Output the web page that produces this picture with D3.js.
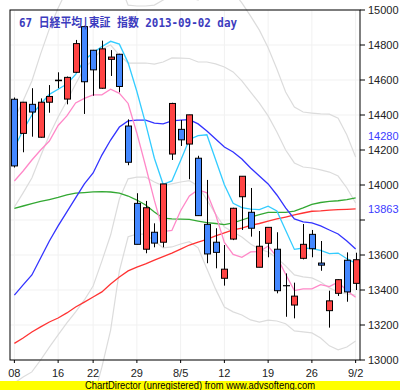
<!DOCTYPE html>
<html><head><meta charset="utf-8">
<script src="https://cdn.jsdelivr.net/npm/d3@7"></script>
<style>body{margin:0;background:#fff}svg{display:block}</style>
</head><body>
<svg id="c" width="400" height="390"></svg>
<script>
const dates = ["7/8","7/9","7/10","7/11","7/12","7/16","7/17","7/18","7/19","7/22","7/23","7/24","7/25","7/26",
  "7/29","7/30","7/31","8/1","8/2","8/5","8/6","8/7","8/8","8/9","8/12","8/13","8/14","8/15","8/16",
  "8/19","8/20","8/21","8/22","8/23","8/26","8/27","8/28","8/29","8/30","9/2"];
const open  = [14490,14295,14461,14273,14473,14596,14491,14644,14905,14770,14553,14718,14747,14337,13895,13633,13730,13673,14177,14318,14234,14153,13775,13673,13467,13691,13933,13844,13530,13667,13633,13425,13314,13581,13718,13554,13282,13381,13570,13438];
const high  = [14500,14475,14553,14495,14571,14644,14620,14829,14910,14772,14825,14771,14750,14375,13953,13909,13781,14006,14470,14371,14401,14167,14029,13753,13657,13870,14050,13983,13737,13758,13730,13495,13442,13777,13743,13680,13396,13461,13615,13613];
const low   = [14100,14187,14276,14270,14413,14553,14461,14640,14406,14510,14550,14623,14530,14113,13661,13610,13644,13644,14143,14223,14033,13823,13553,13524,13425,13685,13743,13705,13530,13587,13381,13247,13238,13575,13587,13510,13185,13366,13333,13400];
const close = [14109,14473,14417,14473,14506,14599,14615,14808,14590,14658,14778,14731,14563,14130,13661,13870,13668,14006,14466,14258,14401,13825,13606,13615,13519,13867,14050,13753,13650,13758,13396,13424,13365,13661,13636,13542,13338,13459,13389,13573];

const lineCyan  = [14211,14314,14400,14463,14518,14547,14577,14632,14715,14755,14791,14821,14805,14698,14534,14351,14153,14004,14023,14140,14260,14282,14287,14144,14001,13895,13871,13862,13859,13879,13852,13741,13632,13640,13637,13627,13608,13611,13579,13553];
const linePink  = [14023,14080,14143,14200,14251,14340,14395,14469,14495,14515,14515,14547,14524,14466,14296,14107,13912,13734,13740,13853,13937,13973,13955,13831,13672,13603,13587,13618,13619,13651,13589,13490,13397,13406,13406,13431,13419,13445,13396,13359];
const lineBlue  = [13371,13429,13486,13583,13680,13766,13846,13926,14006,14069,14171,14257,14331,14366,14371,14371,14354,14349,14366,14371,14374,14349,14309,14263,14217,14189,14149,14097,14051,14006,13943,13869,13806,13789,13783,13766,13743,13720,13680,13634];
const lineGreen = [13867,13880,13894,13906,13917,13929,13943,13954,13957,13961,13962,13960,13954,13937,13914,13886,13846,13811,13806,13805,13803,13794,13785,13780,13774,13783,13800,13817,13831,13843,13844,13844,13851,13869,13889,13900,13906,13910,13917,13926];
const lineRed   = [13095,13126,13160,13189,13217,13240,13269,13303,13331,13360,13389,13434,13474,13509,13531,13549,13571,13591,13611,13634,13657,13674,13689,13709,13726,13743,13754,13769,13780,13794,13806,13817,13829,13840,13850,13852,13856,13859,13861,13863];
const bandUpper2 = [14377,14481,14594,14749,14892,15012,15114,15228,15332,15361,15383,15343,15153,15028,15023,15023,15028,15057,15086,15079,15072,15057,15097,15121,15131,15103,15041,14965,14885,14784,14663,14531,14446,14417,14411,14406,14405,14382,14286,14160];
const bandUpper1 = [13874,13955,14040,14166,14286,14389,14480,14577,14669,14715,14777,14800,14742,14697,14697,14697,14691,14703,14726,14725,14723,14703,14703,14692,14674,14646,14595,14531,14468,14395,14303,14200,14126,14103,14097,14086,14074,14051,13983,13897];
const bandLower1 = [12868,12903,12932,13000,13074,13143,13212,13275,13343,13423,13565,13714,13920,14035,14045,14045,14017,13995,14006,14017,14025,13995,13915,13834,13760,13732,13703,13663,13634,13617,13583,13538,13486,13475,13469,13446,13412,13389,13377,13371];
const bandLower2 = [12365,12377,12378,12417,12468,12520,12578,12624,12680,12777,12959,13171,13509,13704,13719,13719,13680,13641,13646,13663,13676,13641,13521,13405,13303,13275,13257,13229,13217,13228,13223,13207,13166,13161,13155,13126,13081,13058,13074,13108];

const yTicks = [13000,13200,13400,13600,13800,14000,14200,14400,14600,14800,15000];
const yTickLabels = ["13000","13200","13400","13600","","14000","14200","14400","14600","14800","15000"];
const markValues = [14280, 13863];
const xTickDates = ["7/8","7/16","7/22","7/29","8/5","8/12","8/19","8/26","9/2"];
const xTickLabels = ["08","16","22","29","8/5","12","19","26","9/2"];
const title = "67 日経平均|東証 指数 2013-09-02 day";
const footer = "ChartDirector (unregistered) from www.advsofteng.com";

const svg = d3.select("#c");
const L = 10, R = 360, T = 10, B = 360;
const x = d3.scaleBand().domain(dates).range([L, R]).padding(0);
const cx = d => x(d) + x.bandwidth() / 2;
const y = d3.scaleLinear().domain([13000, 15000]).range([B, T]);

svg.append("rect").attr("width", 400).attr("height", 390).attr("fill", "#fff");

// grid
svg.append("g").selectAll("line").data(yTicks).join("line")
  .attr("x1", L).attr("x2", R).attr("y1", d => y(d)).attr("y2", d => y(d))
  .attr("stroke", "#f1f1f1").attr("stroke-width", 1);
svg.append("g").selectAll("line").data(xTickDates).join("line")
  .attr("x1", d => cx(d)).attr("x2", d => cx(d)).attr("y1", T).attr("y2", B)
  .attr("stroke", "#f1f1f1").attr("stroke-width", 1);

const lineGen = d3.line().x((d, i) => cx(dates[i])).y(d => y(d));

// bands (not clipped)
[bandUpper2, bandUpper1, bandLower1, bandLower2].forEach(arr => {
  svg.append("path").datum(arr).attr("d", lineGen)
    .attr("fill", "none").attr("stroke", "#dcdcdc").attr("stroke-width", 1.2);
});

const lines = [
  [lineRed, "#ff3333"],
  [lineGreen, "#33a833"],
  [lineBlue, "#3333ff"],
  [linePink, "#ff88c8"],
  [lineCyan, "#33ccff"]
];
lines.forEach(([arr, col]) => {
  svg.append("path").datum(arr).attr("d", lineGen)
    .attr("fill", "none").attr("stroke", col).attr("stroke-width", 1.3);
});

// candles
const idx = d3.range(dates.length);
const cg = svg.append("g");
cg.selectAll("line").data(idx).join("line")
  .attr("x1", i => Math.round(cx(dates[i])) + 0.5).attr("x2", i => Math.round(cx(dates[i])) + 0.5)
  .attr("y1", i => y(high[i])).attr("y2", i => y(low[i]))
  .attr("stroke", "#000").attr("stroke-width", 1);
cg.selectAll("rect").data(idx).join("rect")
  .attr("x", i => Math.round(cx(dates[i])) - 2.5)
  .attr("width", 6)
  .attr("y", i => y(Math.max(open[i], close[i])))
  .attr("height", i => Math.max(0.01, Math.abs(y(open[i]) - y(close[i]))))
  .attr("fill", i => close[i] >= open[i] ? "#ff4444" : "#4488ff")
  .attr("stroke", "#000").attr("stroke-width", 1);

// border
svg.append("rect").attr("x", L).attr("y", T).attr("width", R - L).attr("height", B - T)
  .attr("fill", "none").attr("stroke", "#000").attr("stroke-width", 1);

// right axis
const ya = svg.append("g");
ya.selectAll("line").data(yTicks).join("line")
  .attr("x1", R).attr("x2", R + 5).attr("y1", d => y(d)).attr("y2", d => y(d))
  .attr("stroke", "#000");
ya.selectAll("text").data(yTicks).join("text")
  .attr("x", R + 8).attr("y", d => y(d)).attr("dy", "0.35em")
  .attr("font-family", "Liberation Sans, Arial, sans-serif").attr("font-size", 11)
  .attr("fill", "#222").text((d, i) => yTickLabels[i]);
ya.selectAll("text.mark").data(markValues).join("text").attr("class", "mark")
  .attr("x", R + 8).attr("y", d => y(d)).attr("dy", "0.35em")
  .attr("font-family", "Liberation Sans, Arial, sans-serif").attr("font-size", 11)
  .attr("fill", "#3c3cff").text(d => String(d));

// bottom axis
const xa = svg.append("g");
xa.selectAll("line").data(xTickDates).join("line")
  .attr("x1", d => cx(d)).attr("x2", d => cx(d)).attr("y1", B).attr("y2", B + 3)
  .attr("stroke", "#000");
xa.selectAll("text").data(xTickDates).join("text")
  .attr("x", d => cx(d)).attr("y", 377).attr("text-anchor", "middle")
  .attr("font-family", "Liberation Sans, Arial, sans-serif").attr("font-size", 11)
  .attr("fill", "#222").text((d, i) => xTickLabels[i]);

// title
svg.append("text").attr("x", 19).attr("y", 27)
  .attr("font-family", "DejaVu Sans Mono, Noto Sans CJK JP, monospace")
  .attr("font-weight", "bold").attr("font-size", 12).attr("fill", "#3c3cbe")
  .attr("textLength", 218).attr("lengthAdjust", "spacingAndGlyphs")
  .text(title);

// footer
svg.append("rect").attr("x", 0).attr("y", 381).attr("width", 400).attr("height", 9).attr("fill", "#ffff00");
svg.append("text").attr("x", 200).attr("y", 389).attr("text-anchor", "middle")
  .attr("font-family", "Liberation Sans, Arial, sans-serif").attr("font-size", 10)
  .attr("fill", "#000").attr("textLength", 230).attr("lengthAdjust", "spacingAndGlyphs")
  .text(footer);
</script>
</body></html>
